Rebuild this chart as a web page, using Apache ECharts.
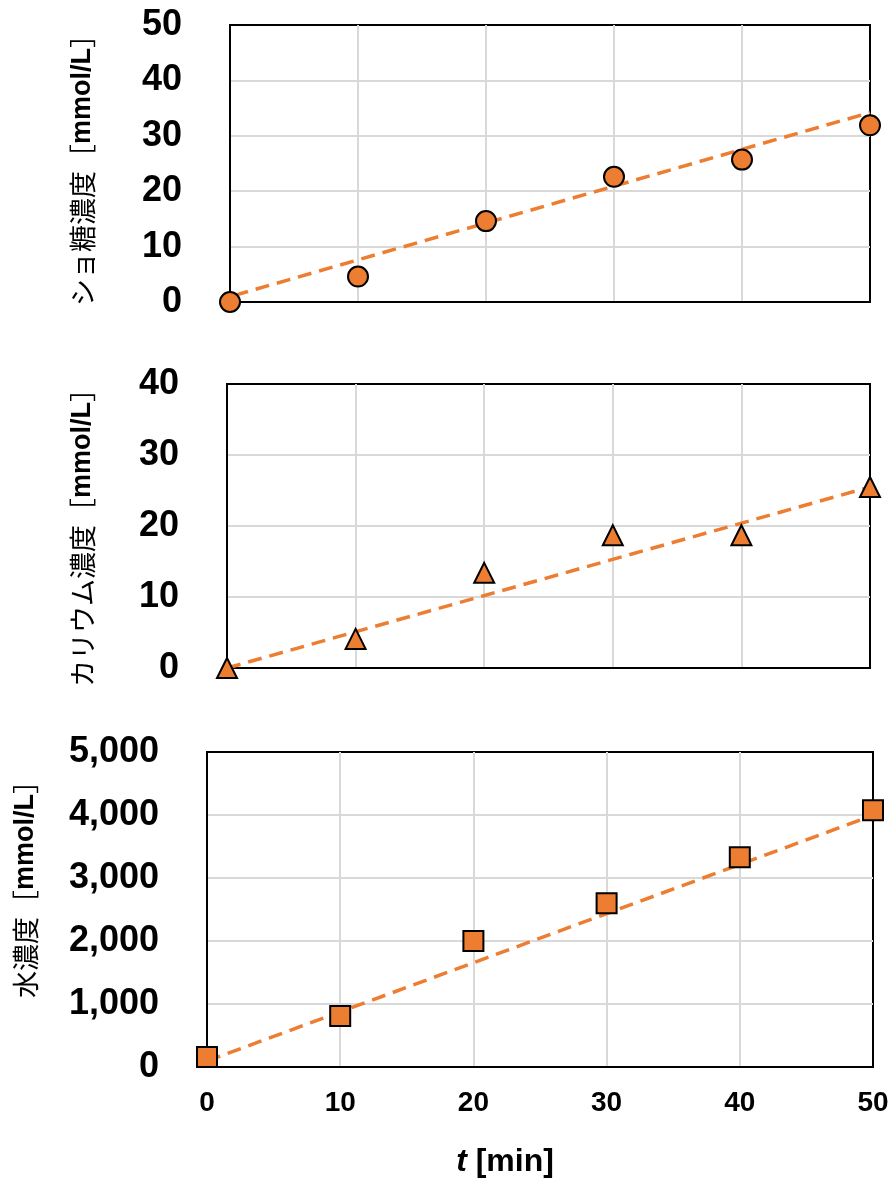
<!DOCTYPE html>
<html>
<head>
<meta charset="utf-8">
<script src="https://cdn.jsdelivr.net/npm/echarts@6/dist/echarts.min.js"></script>
<style>
  html, body { margin: 0; padding: 0; background: #fff; }
  #chart { width: 893px; height: 1180px; }
</style>
</head>
<body>
<div id="chart"></div>
<script>
  // 時間 [min]
  const times = [0, 10, 20, 30, 40, 50];
  // 濃度 [mmol/L]
  const sucrose = [0, 4.6, 14.6, 22.6, 25.7, 31.9];
  const potassium = [0, 4.1, 13.4, 18.7, 18.7, 25.5];
  const water = [160, 810, 2000, 2600, 3330, 4075];
  // 近似直線 (端点を図から読み取り)
  const sucroseTrend = [[-1.3, 0.1], [50, 34.2]];
  const potassiumTrend = [[0, 0], [50, 25.5]];
  const waterTrend = [[0, 95], [50, 3995]];

  const yNames = ['ショ糖濃度', 'カリウム濃度', '水濃度'];
  const yMax = [50, 40, 5000];
  const yStep = [10, 10, 1000];
  const symbols = ['circle', 'triangle', 'rect'];

  const ORANGE = '#ED7D31';
  const NUM_FONT = 'Liberation Sans, Arial, sans-serif';
  const JP_FONT = 'Noto Sans CJK JP, sans-serif';

  const myEcharts = echarts.init(document.getElementById('chart'));

  const grids = [
    {left: 230, top: 25, width: 640, height: 277},
    {left: 227, top: 384, width: 643, height: 284},
    {left: 207, top: 752, width: 666, height: 315}
  ];

  function pairs(ys){
    return times.map((t, i) => [t, ys[i]]);
  }

  const xAxes = grids.map((g, i) => ({
    gridIndex: i,
    type: 'value',
    min: 0,
    max: 50,
    interval: 10,
    axisLine: {show: true, lineStyle: {color: '#000', width: 2}},
    axisTick: {show: false},
    splitLine: {show: true, showMinLine: false, showMaxLine: false, lineStyle: {color: '#d9d9d9', width: 2}},
    axisLabel: {
      show: i === 2,
      margin: 22,
      color: '#000',
      fontSize: 28,
      fontWeight: 'bold',
      fontFamily: NUM_FONT
    },
    name: i === 2 ? '{t|t} [min]' : '',
    nameLocation: 'middle',
    nameGap: 79,
    nameTextStyle: {
      color: '#000',
      fontSize: 32,
      fontWeight: 'bold',
      fontFamily: NUM_FONT,
      padding: [0, 70, 0, 0],
      rich: {
        t: {fontSize: 32, fontWeight: 'bold', fontStyle: 'italic', fontFamily: NUM_FONT, color: '#000'}
      }
    }
  }));

  const nameGaps = [134, 131, 168];
  const namePads = [[0, 0, 0, 0], [0, 10, 0, 0], [0, 0, 0, 54]];

  const yAxes = grids.map((g, i) => ({
    gridIndex: i,
    type: 'value',
    min: 0,
    max: yMax[i],
    interval: yStep[i],
    axisLine: {show: true, lineStyle: {color: '#000', width: 2}},
    axisTick: {show: false},
    splitLine: {show: true, showMinLine: false, showMaxLine: false, lineStyle: {color: '#d9d9d9', width: 2}},
    axisLabel: {
      margin: 48,
      color: '#000',
      fontSize: 36,
      fontWeight: 'bold',
      fontFamily: NUM_FONT,
      formatter: v => v.toLocaleString('en-US')
    },
    name: '{a|' + yNames[i] + '［}{b|mmol/L}{a|］}',
    nameLocation: 'middle',
    nameRotate: 90,
    nameGap: nameGaps[i],
    nameTextStyle: {
      padding: namePads[i],
      rich: {
        a: {fontSize: 27, fontFamily: JP_FONT, color: '#000'},
        b: {fontSize: 27, fontFamily: NUM_FONT, fontWeight: 'bold', color: '#000'}
      }
    }
  }));

  const values = [sucrose, potassium, water];
  const trends = [sucroseTrend, potassiumTrend, waterTrend];
  const series = [];
  grids.forEach((g, i) => {
    series.push({
      type: 'line',
      xAxisIndex: i,
      yAxisIndex: i,
      data: trends[i],
      showSymbol: false,
      clip: false,
      z: 2,
      silent: true,
      lineStyle: {color: ORANGE, width: 3.5, type: [14, 8]}
    });
    series.push({
      type: 'scatter',
      xAxisIndex: i,
      yAxisIndex: i,
      data: pairs(values[i]),
      symbol: symbols[i],
      symbolSize: 20,
      clip: false,
      z: 3,
      itemStyle: {color: ORANGE, borderColor: '#000', borderWidth: 2, opacity: 1}
    });
  });

  const options = {
    animation: false,
    backgroundColor: '#fff',
    grid: grids.map(g => Object.assign({
      show: true,
      borderColor: '#000',
      borderWidth: 2,
      backgroundColor: 'transparent'
    }, g)),
    xAxis: xAxes,
    yAxis: yAxes,
    series: series
  };
  myEcharts.setOption(options, true);
</script>
</body>
</html>
